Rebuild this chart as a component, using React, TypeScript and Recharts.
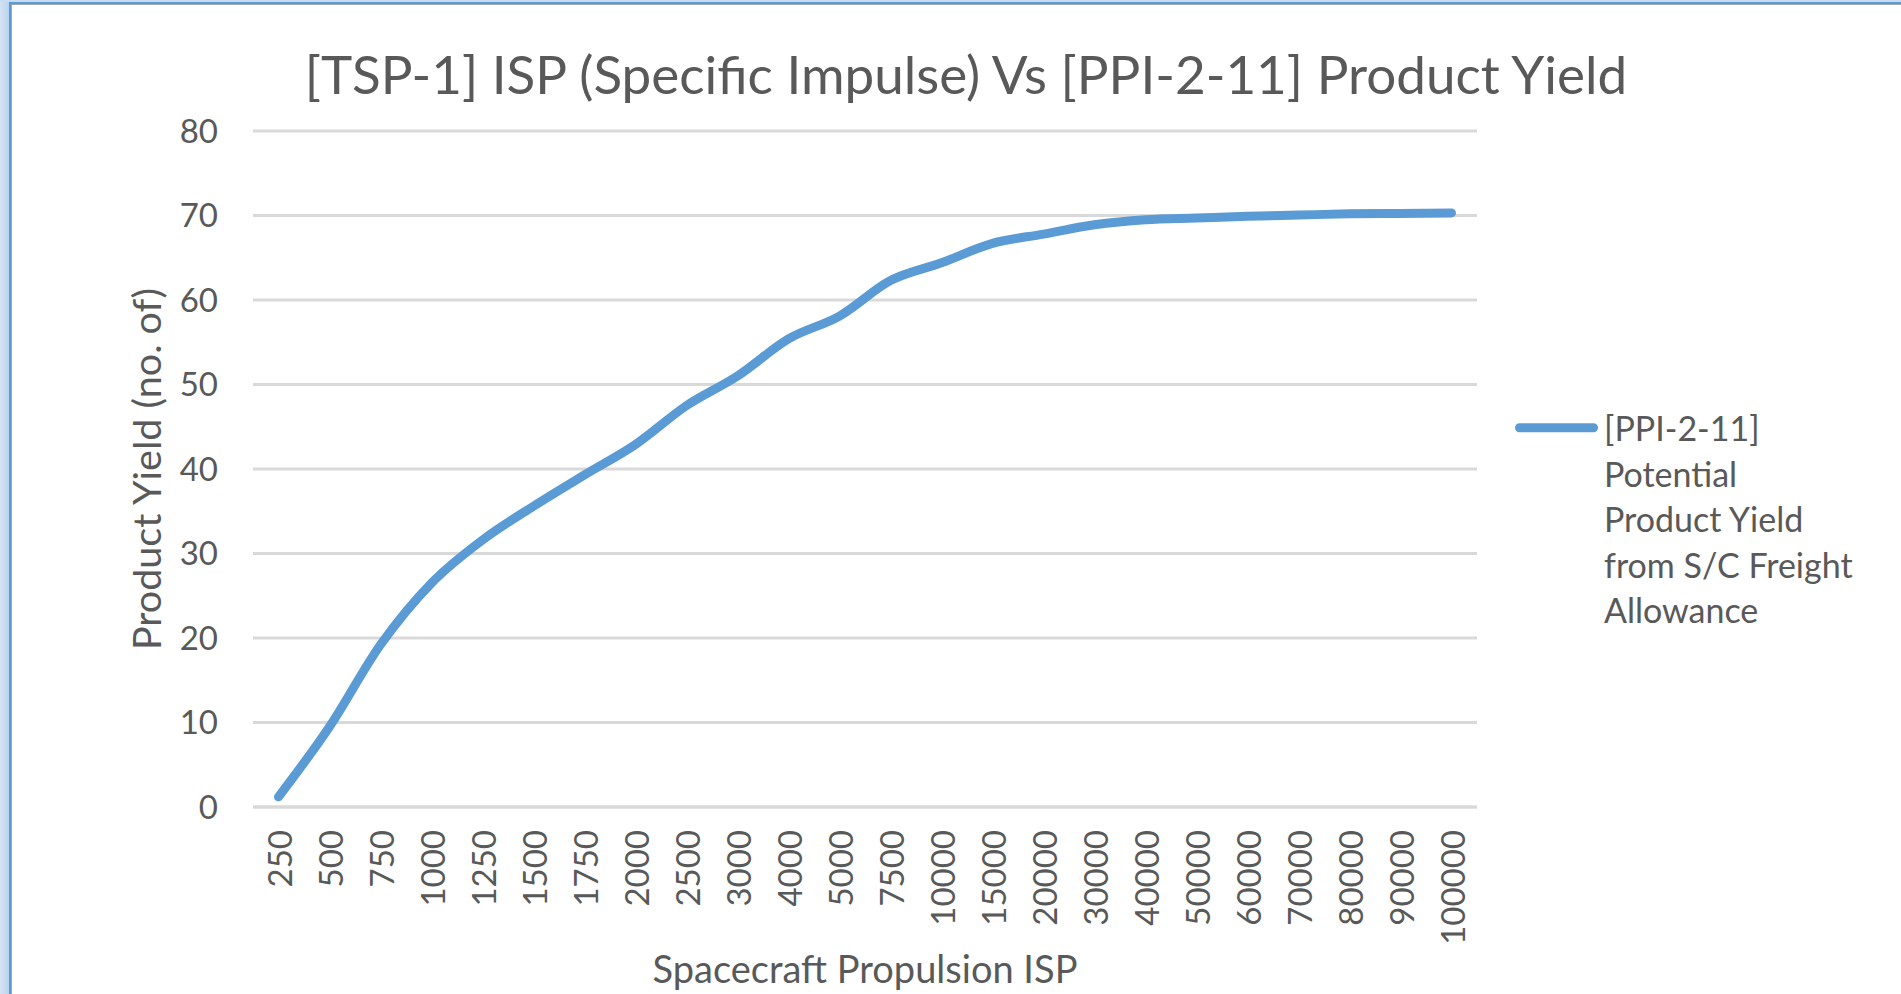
import { CartesianGrid, Legend, Line, LineChart, XAxis, YAxis } from "recharts";

// ISP categories (evenly spaced category axis, not a numeric scale)
const ISP_CATEGORIES = [
  "250", "500", "750", "1000", "1250", "1500", "1750", "2000", "2500", "3000",
  "4000", "5000", "7500", "10000", "15000", "20000", "30000", "40000", "50000",
  "60000", "70000", "80000", "90000", "100000",
];

// product yield, one per category
const PRODUCT_YIELD = [
  1.2, 9.5, 19.2, 26.5, 31.6, 35.6, 39.3, 42.9, 47.5, 51.0, 55.4, 58.1, 62.3,
  64.4, 66.7, 67.8, 68.9, 69.5, 69.7, 69.9, 70.05, 70.2, 70.25, 70.3,
];

const Y_TICKS = [0, 10, 20, 30, 40, 50, 60, 70, 80];

const SERIES_NAME = "[PPI-2-11] Potential Product Yield from S/C Freight Allowance";
const LEGEND_LINES = ["[PPI-2-11]", "Potential", "Product Yield", "from S/C Freight", "Allowance"];

const TITLE = "[TSP-1] ISP (Specific Impulse) Vs [PPI-2-11] Product Yield";
const X_TITLE = "Spacecraft Propulsion ISP";
const Y_TITLE = "Product Yield (no. of)";

const W = 1901;
const H = 994;
const FONT = "Lato, 'Open Sans', sans-serif";
const TEXT = "#595959";
const GRID = "#D9D9D9";
const BLUE = "#5B9BD5";

const chartData = ISP_CATEGORIES.map((isp, i) => ({ isp, yield: PRODUCT_YIELD[i] }));

function IspTick(props: any) {
  const { x, y, payload } = props;
  return (
    <text
      x={x}
      y={y}
      transform={`rotate(-90 ${x} ${y})`}
      textAnchor="end"
      dominantBaseline="central"
      fill={TEXT}
      fontSize={33}
    >
      {payload.value}
    </text>
  );
}

function YTitle(props: any) {
  const vb = props.viewBox;
  const cx = 145;
  const cy = vb.y + vb.height / 2;
  return (
    <text
      x={cx}
      y={cy}
      transform={`rotate(-90 ${cx} ${cy})`}
      textAnchor="middle"
      dominantBaseline="central"
      fill={TEXT}
      fontSize={39.5}
    >
      {Y_TITLE}
    </text>
  );
}

function XTitle(props: any) {
  const vb = props.viewBox;
  return (
    <text
      x={vb.x + vb.width / 2}
      y={968}
      textAnchor="middle"
      dominantBaseline="central"
      fill={TEXT}
      fontSize={38}
    >
      {X_TITLE}
    </text>
  );
}

function SeriesKey() {
  const lh = 45.5;
  return (
    <div style={{ display: "flex", alignItems: "flex-start", fontFamily: FONT }}>
      <svg width={93} height={lh}>
        <line
          x1={8.5}
          y1={lh / 2}
          x2={82.5}
          y2={lh / 2}
          stroke={BLUE}
          strokeWidth={9}
          strokeLinecap="round"
        />
      </svg>
      <div style={{ fontSize: 34, lineHeight: `${lh}px`, color: TEXT, whiteSpace: "nowrap" }}>
        {LEGEND_LINES.map((l) => (
          <div key={l}>{l}</div>
        ))}
      </div>
    </div>
  );
}

export default function App() {
  return (
    <div
      style={{
        position: "absolute",
        left: 0,
        top: 0,
        width: W,
        height: H,
        background: "#fff",
        overflow: "hidden",
        fontFamily: FONT,
      }}
    >
      <LineChart
        width={W}
        height={H}
        data={chartData}
        margin={{ top: 131, right: W - 1477, bottom: 0, left: 0 }}
      >
        <CartesianGrid vertical={false} stroke={GRID} strokeWidth={3} />
        <XAxis
          dataKey="isp"
          interval={0}
          height={187}
          padding={{ left: 25.5, right: 25.5 }}
          tickSize={0}
          tickMargin={23}
          tick={<IspTick />}
          axisLine={{ stroke: GRID, strokeWidth: 3 }}
          tickLine={false}
          label={<XTitle />}
        />
        <YAxis
          width={253}
          domain={[0, 80]}
          ticks={Y_TICKS}
          tickSize={0}
          tickMargin={35}
          axisLine={false}
          tickLine={false}
          tick={{ fill: TEXT, fontSize: 33 }}
          label={<YTitle />}
        />
        <Legend
          layout="vertical"
          align="center"
          verticalAlign="middle"
          content={<SeriesKey />}
          wrapperStyle={{ left: 1511, top: 405, width: "auto", height: "auto" }}
        />
        <Line
          name={SERIES_NAME}
          type="monotone"
          dataKey="yield"
          stroke={BLUE}
          strokeWidth={9}
          strokeLinecap="round"
          strokeLinejoin="round"
          dot={false}
          activeDot={false}
          isAnimationActive={false}
        />
      </LineChart>

      <div
        style={{
          position: "absolute",
          left: 966,
          top: 44,
          transform: "translateX(-50%)",
          whiteSpace: "nowrap",
          fontSize: 53,
          lineHeight: "60px",
          color: TEXT,
        }}
      >
        {TITLE}
      </div>

      {/* window frame, top-left */}
      <div style={{ position: "absolute", left: 0, top: 0, width: 9, height: H, background: "linear-gradient(90deg, #D3E3F4, #BAD3EE)" }} />
      <div style={{ position: "absolute", left: 0, top: 0, width: W, height: 2, background: "#C7DBF1" }} />
      <div style={{ position: "absolute", left: 9, top: 2, width: 2, height: H, background: BLUE }} />
      <div style={{ position: "absolute", left: 9, top: 2, width: W, height: 2, background: BLUE }} />
      <div style={{ position: "absolute", left: 11, top: 4, width: 1, height: H, background: "#A6A6A6" }} />
      <div style={{ position: "absolute", left: 11, top: 4, width: W, height: 1, background: "#A6A6A6" }} />
    </div>
  );
}
